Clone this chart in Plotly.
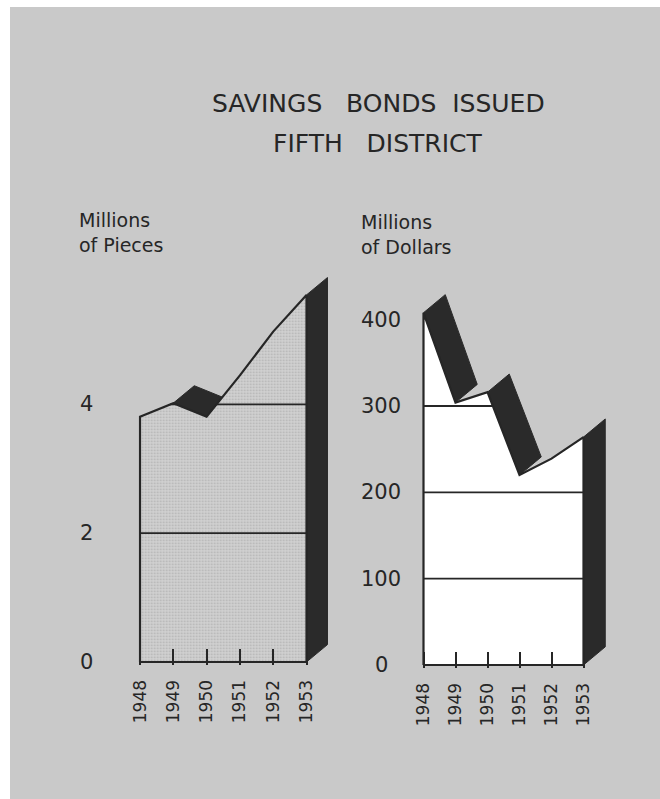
import numpy as np
import plotly.graph_objects as go

# ---------------- data ----------------
years = [1948, 1949, 1950, 1951, 1952, 1953]
year_labels = ["1948", "1949", "1950", "1951", "1952", "1953"]
pieces = [3.81, 4.02, 3.81, 4.45, 5.13, 5.70]      # millions of pieces
dollars = [408, 304, 316, 220, 239, 264]           # millions of dollars
pieces_ticks = [0, 2, 4]
pieces_tick_text = ["0", "2", "4"]
dollars_ticks = [0, 100, 200, 300, 400]
dollars_tick_text = ["0", "100", "200", "300", "400"]
pieces_grid = [2, 4]
dollars_grid = [100, 200, 300]

# ---------------- style ----------------
W, H = 660, 799
BG = "#c9c9c9"
INK = "#262626"
BAND = "#2a2a2a"
FONT = "DejaVu Sans"
SP = "\u00a0"


def dom(v0, p0, v1, p1, lo, hi, total, flip=False):
    k = (p1 - p0) / (v1 - v0)
    a = p0 + (lo - v0) * k
    b = p0 + (hi - v0) * k
    if flip:
        a, b = total - a, total - b
    return sorted([a / total, b / total])


def above_intervals(xs, ys, level):
    pts = []
    for i in range(len(xs) - 1):
        x0, x1, y0, y1 = xs[i], xs[i + 1], ys[i], ys[i + 1]
        pts.append(x0)
        if (y0 - level) * (y1 - level) < 0:
            pts.append(x0 + (level - y0) * (x1 - x0) / (y1 - y0))
    pts.append(xs[-1])
    out = []
    for a, b in zip(pts[:-1], pts[1:]):
        m = (a + b) / 2
        if np.interp(m, xs, ys) >= level:
            if out and abs(out[-1][1] - a) < 1e-9:
                out[-1][1] = b
            else:
                out.append([a, b])
    return out


def panel(fig, xs, ys, grid, depth, xa, ya, front_fill, pattern=None):
    dx, dy = depth
    # visible top faces of falling segments
    for i in range(len(xs) - 1):
        if ys[i + 1] < ys[i]:
            px = [xs[i], xs[i + 1], xs[i + 1] + dx, xs[i] + dx, xs[i]]
            py = [ys[i], ys[i + 1], ys[i + 1] + dy, ys[i] + dy, ys[i]]
            fig.add_trace(go.Scatter(x=px, y=py, mode="lines", fill="toself",
                                     fillcolor=BAND, line=dict(color=BAND, width=1),
                                     xaxis=xa, yaxis=ya, hoverinfo="skip"))
    # right side face
    xe, ye = xs[-1], ys[-1]
    fig.add_trace(go.Scatter(x=[xe, xe, xe + dx, xe + dx, xe], y=[0, ye, ye + dy, dy, 0],
                             mode="lines", fill="toself", fillcolor=BAND,
                             line=dict(color=BAND, width=1),
                             xaxis=xa, yaxis=ya, hoverinfo="skip"))
    # front face
    fx = [xs[0]] + list(xs) + [xs[-1], xs[0]]
    fy = [0] + list(ys) + [0, 0]
    kw = {}
    if pattern is not None:
        kw["fillpattern"] = pattern
    fig.add_trace(go.Scatter(x=fx, y=fy, mode="lines", fill="toself",
                             fillcolor=front_fill, line=dict(color=INK, width=2.2),
                             xaxis=xa, yaxis=ya, hoverinfo="skip", **kw))
    # grid lines drawn on the front face only
    gx, gy = [], []
    for lv in grid:
        for a, b in above_intervals(list(xs), list(ys), lv):
            gx += [a, b, None]
            gy += [lv, lv, None]
    fig.add_trace(go.Scatter(x=gx, y=gy, mode="lines", line=dict(color=INK, width=1.8),
                             xaxis=xa, yaxis=ya, hoverinfo="skip"))


fig = go.Figure()

panel(fig, years, pieces, pieces_grid, (0.63, 0.27), "x", "y", "#d1d1d1",
      pattern=dict(shape=".", size=3, solidity=0.25, fgcolor="#adadad",
                   bgcolor="#d1d1d1", fillmode="replace"))
panel(fig, years, dollars, dollars_grid, (0.68, 21), "x2", "y2", "#ffffff")

x1_rng = [1947.95, 1953.8]
y1_rng = [-0.04, 6.2]
x2_rng = [1947.95, 1953.85]
y2_rng = [-3, 445]

xcommon = dict(tickmode="array", tickvals=years, ticktext=year_labels,
               ticks="inside", ticklen=16, tickwidth=2, tickcolor=INK,
               tickangle=-90, tickfont=dict(family=FONT, size=17, color=INK),
               ticklabelstandoff=11, showline=False, showgrid=False,
               zeroline=False, fixedrange=True, automargin=False)
ycommon = dict(showline=False, showgrid=False, zeroline=False,
               showticklabels=False, ticks="", fixedrange=True, automargin=False)

fig.update_layout(
    width=W, height=H, margin=dict(l=0, r=0, t=0, b=0, pad=0, autoexpand=False),
    paper_bgcolor=BG, plot_bgcolor="rgba(0,0,0,0)", showlegend=False,
    xaxis=dict(range=x1_rng, domain=dom(1948, 140, 1953, 306.5, *x1_rng, W),
               anchor="y", **xcommon),
    yaxis=dict(range=y1_rng, domain=dom(0, 662, 4, 404.4, *y1_rng, H, flip=True),
               anchor="x", **ycommon),
    xaxis2=dict(range=x2_rng, domain=dom(1948, 423.5, 1953, 583.5, *x2_rng, W),
                anchor="y2", **xcommon),
    yaxis2=dict(range=y2_rng, domain=dom(0, 665, 300, 406, *y2_rng, H, flip=True),
                anchor="x2", **ycommon),
)

# white scan margins
fig.add_shape(type="rect", xref="paper", yref="paper", x0=0, x1=10 / W, y0=0, y1=1,
              fillcolor="white", line=dict(width=0), layer="below")
fig.add_shape(type="rect", xref="paper", yref="paper", x0=0, x1=1, y0=1 - 7 / H, y1=1,
              fillcolor="white", line=dict(width=0), layer="below")

ann = []
# y tick labels (centred, as drawn)
for v, t in zip(pieces_ticks, pieces_tick_text):
    ann.append(dict(x=87 / W, xref="paper", y=v, yref="y", text=t, showarrow=False,
                    xanchor="center", yanchor="middle",
                    font=dict(family=FONT, size=21, color=INK)))
for v, t in zip(dollars_ticks, dollars_tick_text):
    ann.append(dict(x=381 / W, xref="paper", y=v, yref="y2", text=t, showarrow=False,
                    xanchor="center", yanchor="middle",
                    font=dict(family=FONT, size=21, color=INK)))
# axis titles
ann.append(dict(x=77 / W, xref="paper", y=1 - 233 / H, yref="paper",
                text="Millions<br>of Pieces", showarrow=False, align="left",
                xanchor="left", yanchor="middle",
                font=dict(family=FONT, size=19, color=INK)))
ann.append(dict(x=359 / W, xref="paper", y=1 - 234 / H, yref="paper",
                text="Millions<br>of Dollars", showarrow=False, align="left",
                xanchor="left", yanchor="middle",
                font=dict(family=FONT, size=19, color=INK)))
# titles
ann.append(dict(x=378.5 / W, xref="paper", y=1 - 103 / H, yref="paper",
                text="SAVINGS" + SP * 2 + " BONDS" + SP + " ISSUED", showarrow=False,
                xanchor="center", yanchor="middle",
                font=dict(family=FONT, size=25, color=INK)))
ann.append(dict(x=377.5 / W, xref="paper", y=1 - 143 / H, yref="paper",
                text="FIFTH" + SP * 2 + " DISTRICT", showarrow=False,
                xanchor="center", yanchor="middle",
                font=dict(family=FONT, size=25, color=INK)))
fig.update_layout(annotations=ann)

fig.write_html("out.html")
